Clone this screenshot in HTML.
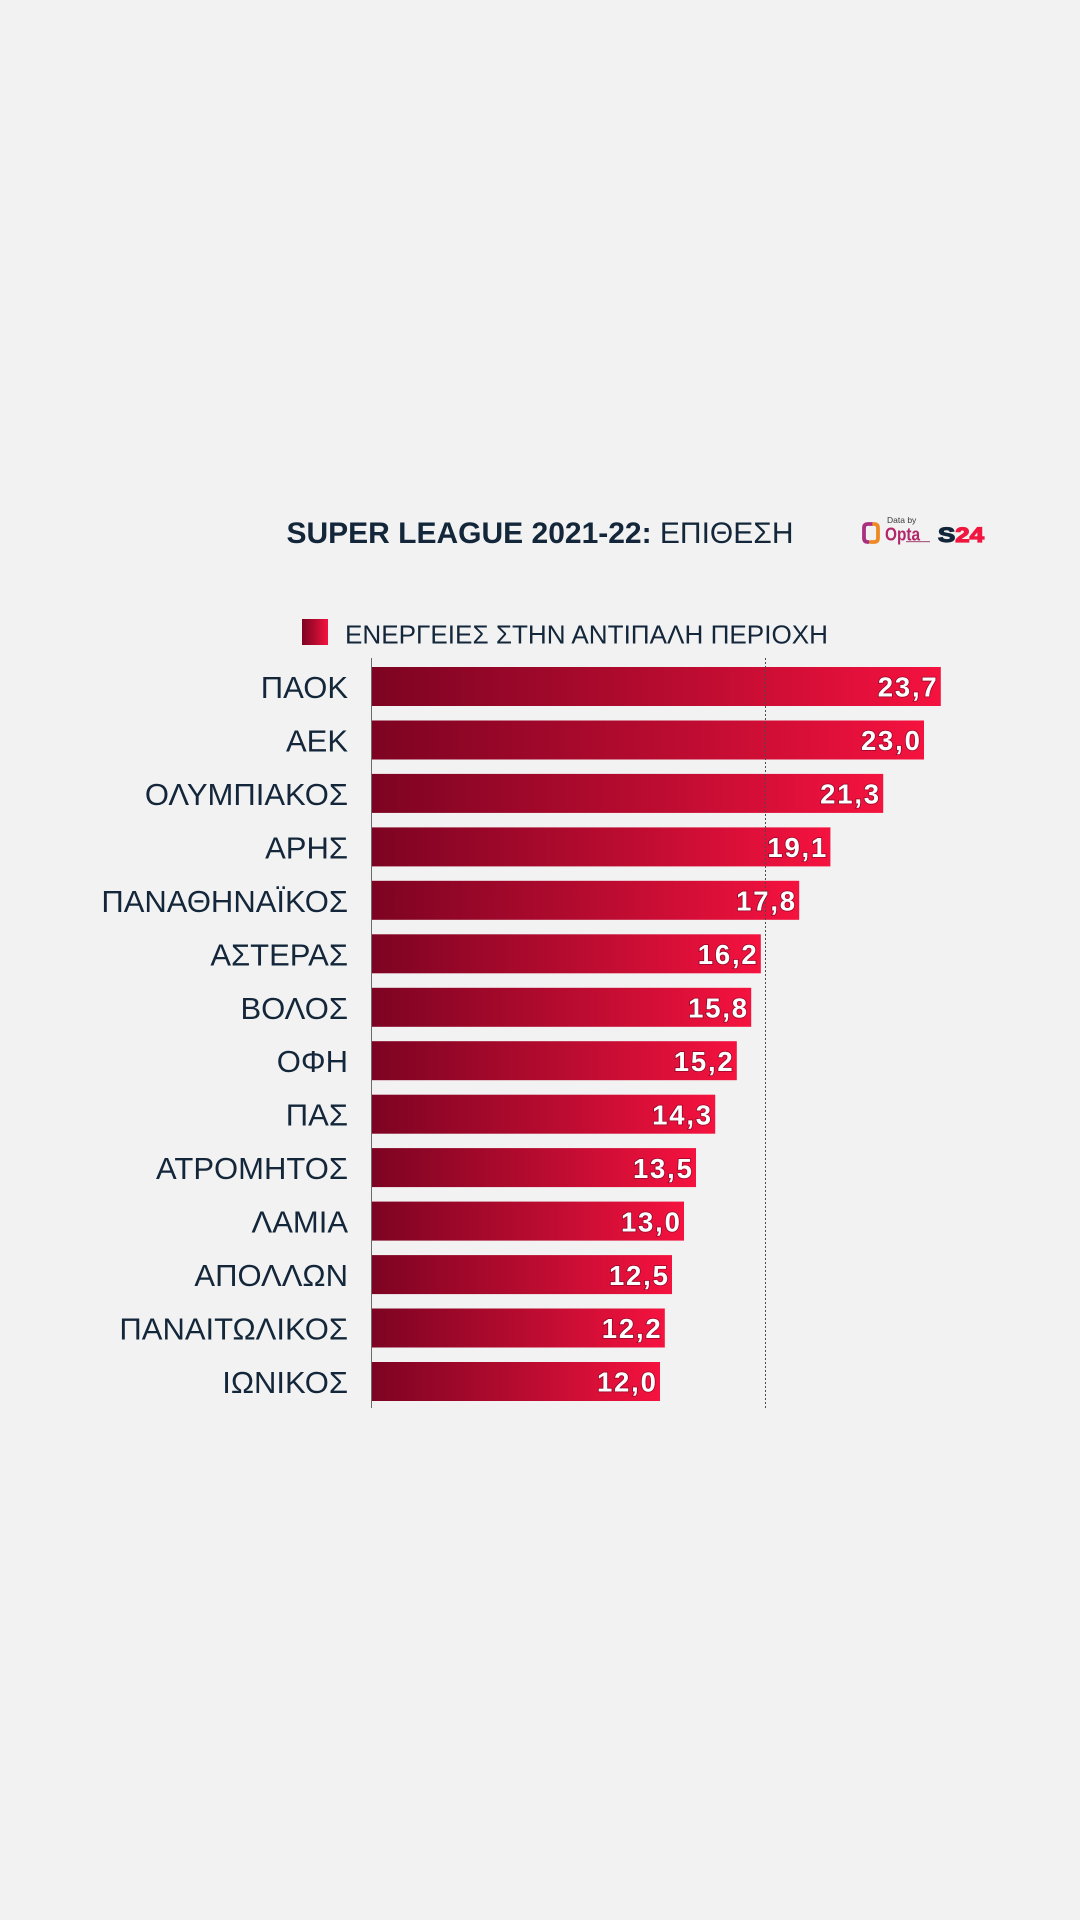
<!DOCTYPE html>
<html>
<head>
<meta charset="utf-8">
<style>
html,body{margin:0;padding:0;background:#f2f2f2;}
svg{display:block;}
text{font-family:"Liberation Sans","DejaVu Sans",sans-serif;}
</style>
</head>
<body>
<svg width="1080" height="1920" viewBox="0 0 1080 1920" xmlns="http://www.w3.org/2000/svg">
<defs>
<linearGradient id="bg" x1="0" y1="0" x2="1" y2="0" gradientUnits="objectBoundingBox">
<stop offset="0" stop-color="#7d0322"/>
<stop offset="0.5" stop-color="#b50b2f"/>
<stop offset="1" stop-color="#f5123f"/>
</linearGradient>
</defs>
<rect x="0" y="0" width="1080" height="1920" fill="#f2f2f2"/>

<!-- Title -->
<text x="286.5" y="543" font-size="30" fill="#13263a" textLength="507" lengthAdjust="spacingAndGlyphs"><tspan font-weight="bold">SUPER LEAGUE 2021-22:</tspan> ΕΠΙΘΕΣΗ</text>

<!-- Opta logo -->
<text x="887" y="523" font-size="8.5" fill="#3a3a3a">Data by</text>
<path d="M872 524 L868 524 Q864 524 864 528 L864 538 Q864 542 868 542" fill="none" stroke="#a8307f" stroke-width="3.8" stroke-linecap="round"/>
<path d="M871 542 L874 542 Q878 542 878 538 L878 528 Q878 524 874 524" fill="none" stroke="#ee8a25" stroke-width="3.8" stroke-linecap="round"/>
<text x="885" y="540.5" font-size="18" font-weight="bold" fill="#b3276a" textLength="35" lengthAdjust="spacingAndGlyphs">Opta</text>
<rect x="906" y="541" width="24" height="1.2" fill="#b06080"/>

<!-- S24 logo -->
<text x="938" y="542" font-size="21" font-weight="bold" textLength="46" lengthAdjust="spacingAndGlyphs" stroke-width="1.2"><tspan fill="#13263a" stroke="#13263a">S</tspan><tspan fill="#f0163f" stroke="#f0163f">24</tspan></text>

<!-- Legend -->
<rect x="302" y="619" width="26" height="26" fill="url(#bg)"/>
<text x="345" y="643.3" font-size="25.5" fill="#13263a" textLength="483" lengthAdjust="spacingAndGlyphs">ΕΝΕΡΓΕΙΕΣ ΣΤΗΝ ΑΝΤΙΠΑΛΗ ΠΕΡΙΟΧΗ</text>

<!-- Axis -->
<line x1="371.5" y1="658" x2="371.5" y2="1408" stroke="#6a6a6a" stroke-width="1"/>

<!-- Bars -->
<g>
<rect x="372" y="667" width="568.8" height="39" fill="url(#bg)"/>
<rect x="372" y="720.5" width="552" height="39" fill="url(#bg)"/>
<rect x="372" y="773.9" width="511.2" height="39" fill="url(#bg)"/>
<rect x="372" y="827.4" width="458.4" height="39" fill="url(#bg)"/>
<rect x="372" y="880.8" width="427.2" height="39" fill="url(#bg)"/>
<rect x="372" y="934.3" width="388.8" height="39" fill="url(#bg)"/>
<rect x="372" y="987.8" width="379.2" height="39" fill="url(#bg)"/>
<rect x="372" y="1041.2" width="364.8" height="39" fill="url(#bg)"/>
<rect x="372" y="1094.7" width="343.2" height="39" fill="url(#bg)"/>
<rect x="372" y="1148.1" width="324" height="39" fill="url(#bg)"/>
<rect x="372" y="1201.6" width="312" height="39" fill="url(#bg)"/>
<rect x="372" y="1255.1" width="300" height="39" fill="url(#bg)"/>
<rect x="372" y="1308.5" width="292.8" height="39" fill="url(#bg)"/>
<rect x="372" y="1362" width="288" height="39" fill="url(#bg)"/>
</g>

<!-- Average dotted line -->
<line x1="765.5" y1="658" x2="765.5" y2="1408" stroke="#4a4a4a" stroke-width="1" stroke-dasharray="2,2"/>

<!-- Team labels -->
<g font-size="31" fill="#13263a" text-anchor="end">
<text x="348" y="698">ΠΑΟΚ</text>
<text x="348" y="751.5">ΑΕΚ</text>
<text x="348" y="804.9">ΟΛΥΜΠΙΑΚΟΣ</text>
<text x="348" y="858.4">ΑΡΗΣ</text>
<text x="348" y="911.8">ΠΑΝΑΘΗΝΑΪΚΟΣ</text>
<text x="348" y="965.3">ΑΣΤΕΡΑΣ</text>
<text x="348" y="1018.8">ΒΟΛΟΣ</text>
<text x="348" y="1072.2">ΟΦΗ</text>
<text x="348" y="1125.7">ΠΑΣ</text>
<text x="348" y="1179.1">ΑΤΡΟΜΗΤΟΣ</text>
<text x="348" y="1232.6">ΛΑΜΙΑ</text>
<text x="348" y="1286.1">ΑΠΟΛΛΩΝ</text>
<text x="348" y="1339.5">ΠΑΝΑΙΤΩΛΙΚΟΣ</text>
<text x="348" y="1393">ΙΩΝΙΚΟΣ</text>
</g>

<!-- Values -->
<g font-size="27.5" font-weight="bold" fill="#ffffff" text-anchor="end" stroke="#4a0016" stroke-width="1.6" stroke-opacity="0.55" paint-order="stroke" letter-spacing="1.8">
<text x="938.5" y="696.7">23,7</text>
<text x="921.7" y="750.2">23,0</text>
<text x="880.9" y="803.6">21,3</text>
<text x="828.1" y="857.1">19,1</text>
<text x="796.9" y="910.5">17,8</text>
<text x="758.5" y="964">16,2</text>
<text x="748.9" y="1017.5">15,8</text>
<text x="734.5" y="1070.9">15,2</text>
<text x="712.9" y="1124.4">14,3</text>
<text x="693.7" y="1177.8">13,5</text>
<text x="681.7" y="1231.3">13,0</text>
<text x="669.7" y="1284.8">12,5</text>
<text x="662.5" y="1338.2">12,2</text>
<text x="657.7" y="1391.7">12,0</text>
</g>
</svg>
</body>
</html>
